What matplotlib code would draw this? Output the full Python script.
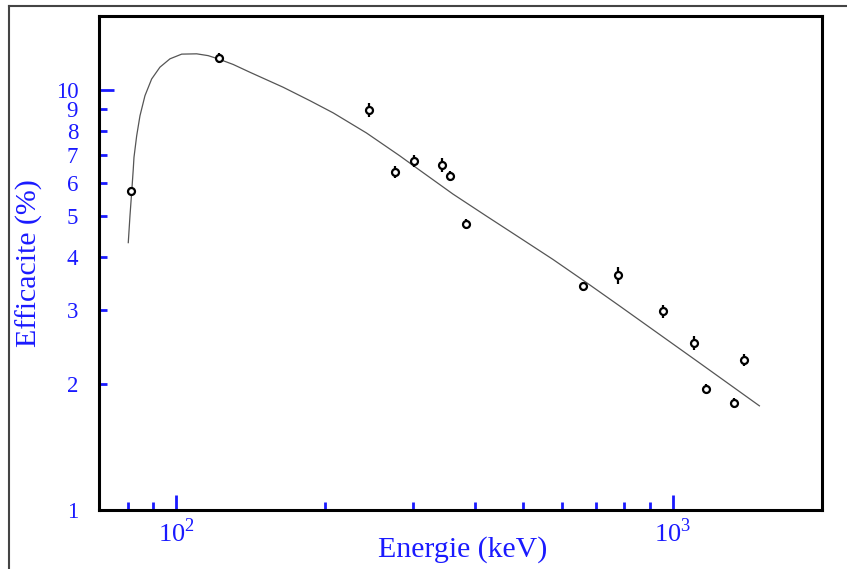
import matplotlib
matplotlib.use("Agg")
import matplotlib.pyplot as plt
from matplotlib.lines import Line2D
from matplotlib.ticker import FixedLocator, NullFormatter, FixedFormatter

# measured points (keV, efficiency %)
energie = [81.2, 122, 244.5, 275.8, 301, 343, 356, 383, 659, 775, 959, 1107, 1170, 1327, 1396]
efficacite = [5.74, 11.92, 8.96, 6.37, 6.77, 6.62, 6.23, 4.79, 3.41, 3.62, 2.97, 2.50, 1.945, 1.80, 2.28]
erreur = [0.13, 0.33, 0.35, 0.21, 0.22, 0.25, 0.17, 0.13, 0.08, 0.16, 0.11, 0.09, 0.05, 0.05, 0.075]

# fitted efficiency curve
courbe_e = [80.17, 80.80, 81.44, 82.05, 82.32, 83.36, 84.64, 86.62, 89.35, 92.85, 97.26,
            102.7, 110.1, 116.1, 121.6, 130.4, 140.9, 164.4, 186.1, 207.3, 241.9, 282.3,
            309.7, 361.4, 421.8, 492.1, 574.3, 670.7, 782.5, 1133, 1496]
courbe_eff = [4.33, 5.01, 5.70, 6.48, 6.91, 7.78, 8.68, 9.69, 10.62, 11.33, 11.86,
              12.17, 12.19, 12.07, 11.86, 11.50, 11.02, 10.15, 9.43, 8.82, 7.90, 6.97,
              6.44, 5.65, 5.01, 4.45, 3.95, 3.48, 3.06, 2.24, 1.77]

y_ticks = [1, 2, 3, 4, 5, 6, 7, 8, 9, 10]
x_major = [100, 1000]
x_minor = [70, 80, 90, 200, 300, 400, 500, 600, 700, 800, 900, 2000]

plt.rcParams['font.family'] = 'Liberation Serif'
plt.rcParams['mathtext.fontset'] = 'custom'
plt.rcParams['mathtext.rm'] = 'Liberation Serif'

bleu = '#1a1aff'

fig = plt.figure(figsize=(8.47, 5.69), dpi=100)
ax = fig.add_axes([0.1169, 0.1037, 0.9705 - 0.1169, 0.9719 - 0.1037])

ax.plot(courbe_e, courbe_eff, color='#555555', lw=0.9)
ax.errorbar(energie, efficacite, yerr=erreur, fmt='o', ms=5, mfc='white', mec='black',
            mew=1.6, ecolor='black', elinewidth=1.6, capsize=0)

ax.set_xscale('log')
ax.set_yscale('log')
ax.set_xlim(70, 2000)
ax.set_ylim(1, 15)

# x ticks
ax.xaxis.set_major_locator(FixedLocator(x_major))
ax.xaxis.set_major_formatter(FixedFormatter([r'$10^{2}$', r'$10^{3}$']))
ax.xaxis.set_minor_locator(FixedLocator(x_minor))
ax.xaxis.set_minor_formatter(NullFormatter())

# y ticks: 1 and 10 long, the others short, all labelled
ax.yaxis.set_major_locator(FixedLocator([1, 10]))
ax.yaxis.set_major_formatter(FixedFormatter(['1', '10']))
ax.yaxis.set_minor_locator(FixedLocator([t for t in y_ticks if t not in (1, 10)]))
ax.yaxis.set_minor_formatter(FixedFormatter([str(t) for t in y_ticks if t not in (1, 10)]))

ax.tick_params(axis='both', which='both', direction='in', colors=bleu, width=2,
               labelsize=16.5, labelcolor=bleu)
ax.tick_params(axis='both', which='major', length=11)
ax.tick_params(axis='both', which='minor', length=6)
ax.tick_params(axis='y', which='both', pad=15)
ax.tick_params(axis='x', which='both', pad=6, top=False, labelsize=19)
ax.tick_params(axis='y', which='both', right=False)

for s in ax.spines.values():
    s.set_linewidth(2.2)
    s.set_color('black')

ax.set_xlabel('Energie (keV)', fontsize=21.5, color=bleu)
ax.set_ylabel('Efficacite (%)', fontsize=21.5, color=bleu)
ax.xaxis.set_label_coords(0.503, -0.052)
ax.yaxis.set_label_coords(-0.077, 0.5)

# outer frame (top and left only visible)
fig.add_artist(Line2D([9 / 847, 9 / 847], [0, 1 - 6 / 569], transform=fig.transFigure,
                      color='#444444', lw=1.5))
fig.add_artist(Line2D([9 / 847, 1], [1 - 6 / 569, 1 - 6 / 569], transform=fig.transFigure,
                      color='#444444', lw=1.5))

fig.savefig('out.png', dpi=100)
